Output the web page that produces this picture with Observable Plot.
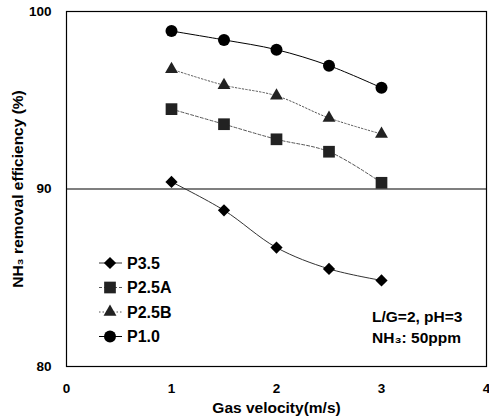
<!DOCTYPE html>
<html><head><meta charset="utf-8">
<script src="https://cdn.jsdelivr.net/npm/d3@7"></script>
<script src="https://cdn.jsdelivr.net/npm/@observablehq/plot@0.6"></script>
<style>body{margin:0;background:#fff}#chart{width:489px;height:420px}</style>
</head><body><div id="chart"></div>
<script>
const xVals = [1, 1.5, 2, 2.5, 3];
const seriesNames = ["P3.5", "P2.5A", "P2.5B", "P1.0"];
const p35 = [90.4, 88.8, 86.7, 85.5, 84.85];
const p25a = [94.5, 93.65, 92.8, 92.1, 90.35];
const p25b = [96.75, 95.85, 95.25, 94.0, 93.1];
const p10 = [98.9, 98.4, 97.85, 96.95, 95.7];
const xTicks = [0, 1, 2, 3, 4];
const yTicks = [80, 90, 100];
const refLine = [90];
const noteLines = ["L/G=2, pH=3", "NH₃: 50ppm"];

const styles = {
  "P3.5": {values: p35, symbol: "diamond2", stroke: "#333", dash: null, fill: "#000", r: 5.5},
  "P2.5A": {values: p25a, symbol: "square", stroke: "#555", dash: "3,2", fill: "#222", r: 6.6},
  "P2.5B": {values: p25b, symbol: "triangle", stroke: "#555", dash: "1.5,2", fill: "#222", r: 4.8},
  "P1.0": {values: p10, symbol: "circle", stroke: "#000", dash: null, fill: "#000", r: 6.0}
};

const marks = [
  Plot.frame({stroke: "#000", strokeWidth: 1.2}),
  Plot.ruleY(refLine, {stroke: "#000", strokeWidth: 1.2})
];
for (const name of seriesNames) {
  const s = styles[name];
  const rows = xVals.map((x, i) => ({x, y: s.values[i]}));
  marks.push(Plot.line(rows, {x: "x", y: "y", curve: "catmull-rom", stroke: s.stroke, strokeWidth: 1, strokeDasharray: s.dash}));
  marks.push(Plot.dot(rows, {x: "x", y: "y", symbol: s.symbol, fill: s.fill, stroke: "none", r: s.r}));
}
marks.push(Plot.text(["NH₃ removal efficiency (%)"], {frameAnchor: "left", dx: -48, rotate: -90, textAnchor: "middle", lineAnchor: "middle", fontSize: 15.5, fontWeight: "bold", fill: "#000"}));
marks.push(Plot.text(["Gas velocity(m/s)"], {frameAnchor: "bottom", dy: 42, textAnchor: "middle", lineAnchor: "middle", fontSize: 15.5, fontWeight: "bold", fill: "#000"}));

const plot = Plot.plot({
  width: 489, height: 420,
  marginLeft: 66, marginRight: 3, marginTop: 11, marginBottom: 54,
  style: {fontFamily: "'Liberation Sans', Arial, sans-serif", fontSize: "13.5px", fontWeight: "bold", background: "#fff", color: "#000"},
  x: {domain: [0, 4], ticks: xTicks, tickSize: 0, tickPadding: 17, tickFormat: d => String(d), label: null},
  y: {domain: [80, 100], ticks: yTicks, tickSize: 0, tickPadding: 15, tickFormat: d => String(d), label: null},
  marks
});
document.getElementById("chart").appendChild(plot);

// legend and note
const svg = d3.select(plot);
const fx = plot.scale("x"), fy = plot.scale("y");
const left = fx.apply(0), bottom = fy.apply(80), right = fx.apply(4);
const lg = svg.append("g").attr("font-family", "'Liberation Sans', Arial, sans-serif").attr("font-weight", "bold").attr("font-size", 16).attr("text-anchor", "start");
seriesNames.forEach((name, i) => {
  const s = styles[name];
  const cy = bottom - 103 + i * 24.5;
  const cx = left + 44;
  lg.append("line").attr("x1", cx - 11).attr("x2", cx + 12).attr("y1", cy).attr("y2", cy)
    .attr("stroke", s.stroke).attr("stroke-width", 1).attr("stroke-dasharray", s.dash);
  const sym = {circle: d3.symbolCircle, square: d3.symbolSquare, triangle: d3.symbolTriangle, diamond2: d3.symbolDiamond2}[s.symbol];
  lg.append("path").attr("d", d3.symbol(sym, Math.PI * s.r * s.r)()).attr("transform", `translate(${cx},${cy})`).attr("fill", s.fill);
  lg.append("text").attr("x", cx + 17).attr("y", cy).attr("dy", "0.35em").attr("fill", "#000").text(name);
});
noteLines.forEach((t, i) => {
  lg.append("text").attr("x", right - 114).attr("y", bottom - 44 + i * 21).attr("font-size", 15.5).attr("fill", "#000").text(t);
});
</script></body></html>
